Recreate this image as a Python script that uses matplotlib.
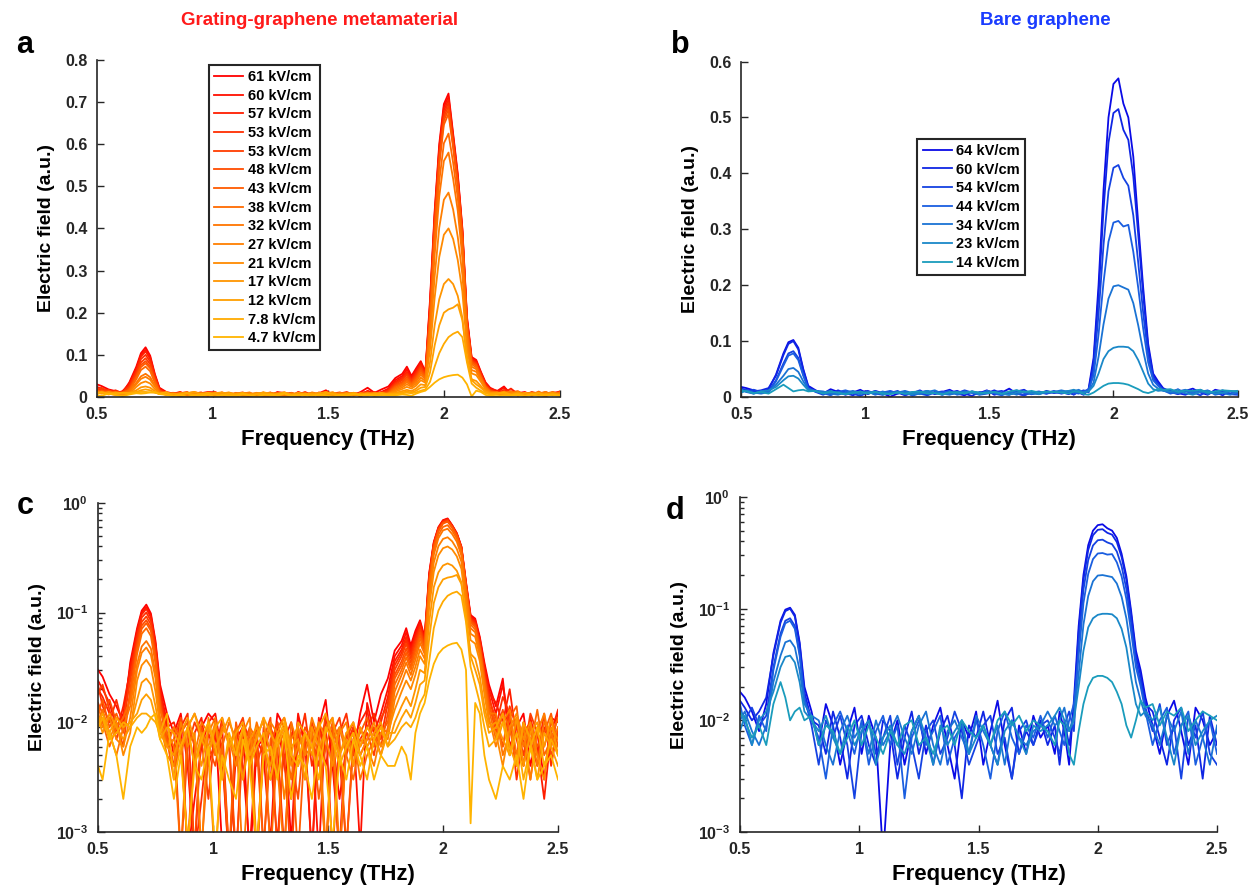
"""Field-dependent THz spectra: grating-graphene metamaterial vs bare graphene."""
import numpy as np
import matplotlib
matplotlib.use("Agg")
import matplotlib.pyplot as plt
from matplotlib.colors import LinearSegmentedColormap
from matplotlib.ticker import LogLocator, NullFormatter

plt.rcParams["font.family"] = ["Liberation Sans", "DejaVu Sans"]
plt.rcParams["font.weight"] = "bold"
plt.rcParams["mathtext.fontset"] = "custom"
plt.rcParams["mathtext.rm"] = "Liberation Sans:bold"
plt.rcParams["mathtext.it"] = "Liberation Sans:bold"
plt.rcParams["mathtext.bf"] = "Liberation Sans:bold"
plt.rcParams["axes.unicode_minus"] = False

# frequency grid (THz)
freq = [0.50, 0.52, 0.55, 0.58, 0.61, 0.64,
        0.67, 0.69, 0.71, 0.73, 0.75, 0.77, 0.80,
        0.83, 0.86, 0.89, 0.92, 0.95, 0.98, 1.01, 1.04, 1.07, 1.10,
        1.13, 1.16, 1.19, 1.22, 1.25, 1.28, 1.31, 1.34, 1.37, 1.40,
        1.43, 1.46, 1.49, 1.52, 1.55, 1.58, 1.61, 1.64, 1.67, 1.70,
        1.73, 1.76,
        1.79, 1.82, 1.84, 1.86, 1.88, 1.90, 1.92, 1.94, 1.96, 1.98,
        2.00, 2.02, 2.04, 2.06, 2.08, 2.10, 2.12, 2.14, 2.16, 2.18, 2.20,
        2.23, 2.26, 2.29, 2.32, 2.35, 2.38, 2.41, 2.44, 2.47, 2.50]

# spectra in units of 1e-3 a.u.
# grating-graphene metamaterial
meta_labels = ["61 kV/cm", "60 kV/cm", "57 kV/cm", "53 kV/cm", "53 kV/cm",
               "48 kV/cm", "43 kV/cm", "38 kV/cm", "32 kV/cm", "27 kV/cm",
               "21 kV/cm", "17 kV/cm", "12 kV/cm", "7.8 kV/cm", "4.7 kV/cm"]
meta_61 = [30, 26, 18, 14, 10, 35,
           72, 104, 118, 98, 55, 22, 12,
           8, 12, 4, 0.6, 9, 12, 10, 0.7, 0.5, 7, 9, 0.5, 6, 7, 3, 12, 9, 0.8, 11, 7,
           0.6, 9, 16, 4, 0.7, 8, 5, 12, 22, 10, 18, 25,
           45, 55, 72, 50, 68, 85, 60, 230, 440, 600,
           695, 720, 625, 530, 400, 190, 95, 88, 60, 35, 22,
           14, 25, 6, 9, 12, 4, 8, 3, 11, 10]
meta_60 = [24, 20, 15, 9, 12, 32,
           68, 100, 112, 94, 52, 20, 10,
           5, 11, 0.6, 2, 6, 10, 12, 5, 0.5, 9, 4, 0.7, 7, 5, 0.8, 10, 4, 2, 12, 6,
           8, 0.6, 11, 7, 2, 6, 9, 0.7, 15, 8, 12, 20,
           40, 50, 66, 47, 64, 82, 58, 222, 432, 592,
           688, 712, 620, 525, 396, 186, 92, 85, 58, 33, 20,
           12, 22, 9, 5, 10, 7, 4, 9, 6, 12]
meta_57 = [20, 17, 12, 8, 14, 30,
           64, 96, 108, 90, 50, 19, 9,
           10, 6, 0.7, 8, 11, 4, 7, 9, 0.6, 5, 8, 6, 0.5, 9, 5, 0.8, 7, 10, 4, 8,
           0.6, 11, 4, 9, 5, 0.7, 7, 10, 13, 6, 10, 17,
           36, 46, 60, 44, 60, 78, 56, 215, 425, 585,
           680, 705, 615, 520, 392, 182, 90, 82, 56, 31, 19,
           15, 10, 20, 7, 4, 11, 6, 2, 8, 13]
meta_53a = [22, 14, 10, 16, 9, 26,
            60, 90, 100, 84, 47, 17, 8,
            4, 9, 12, 0.6, 2, 8, 5, 11, 6, 0.5, 10, 7, 0.6, 5, 9, 6, 0.7, 8, 6, 12,
            4, 7, 10, 0.6, 8, 12, 5, 7, 9, 12, 7, 15,
            33, 43, 56, 41, 56, 74, 54, 208, 418, 578,
            672, 698, 610, 515, 388, 178, 88, 80, 54, 29, 18,
            9, 17, 12, 3, 8, 10, 5, 12, 4, 9]
meta_53b = [18, 22, 13, 7, 11, 24,
            55, 82, 92, 78, 44, 16, 7,
            9, 0.6, 6, 10, 7, 2, 9, 6, 0.5, 8, 11, 5, 9, 0.7, 6, 10, 5, 0.5, 8, 5,
            10, 6, 0.6, 8, 11, 5, 9, 6, 8, 5, 11, 14,
            30, 40, 52, 38, 52, 70, 52, 200, 410, 570,
            664, 690, 605, 510, 384, 175, 86, 78, 52, 27, 16,
            11, 6, 14, 9, 5, 12, 8, 6, 10, 7]
meta_48 = [15, 12, 16, 10, 6, 20,
           50, 76, 85, 72, 40, 15, 6,
           7, 11, 5, 0.7, 9, 6, 4, 10, 7, 0.6, 6, 9, 4, 7, 11, 0.6, 8, 5, 2, 9,
           7, 4, 12, 6, 0.5, 7, 10, 5, 7, 9, 6, 12,
           27, 36, 47, 35, 48, 66, 50, 192, 400, 560,
           656, 682, 598, 505, 380, 172, 84, 76, 50, 26, 15,
           8, 13, 5, 10, 7, 3, 9, 11, 5, 8]
meta_43 = [12, 16, 9, 12, 8, 18,
           47, 71, 80, 68, 38, 14, 7,
           3, 8, 10, 6, 0.7, 5, 9, 7, 0.6, 10, 5, 8, 6, 0.7, 7, 9, 11, 6, 0.6, 7,
           9, 2, 6, 10, 7, 0.7, 6, 8, 11, 6, 8, 10,
           25, 33, 43, 32, 45, 62, 48, 184, 390, 550,
           646, 672, 592, 500, 376, 168, 82, 74, 48, 25, 14,
           10, 6, 11, 14, 4, 9, 6, 8, 12, 6]
meta_38 = [14, 10, 6, 9, 11, 16,
           42, 64, 72, 61, 34, 13, 8,
           6, 0.6, 9, 12, 8, 5, 0.5, 6, 10, 7, 3, 9, 7, 11, 0.6, 6, 8, 3, 9, 5,
           6, 10, 0.7, 7, 9, 5, 3, 7, 6, 8, 5, 9,
           22, 30, 39, 30, 41, 58, 45, 170, 362, 512,
           602, 625, 556, 472, 352, 158, 78, 70, 46, 24, 13,
           7, 12, 9, 4, 10, 6, 13, 5, 7, 11]
meta_32 = [10, 13, 8, 5, 9, 14,
           34, 49, 55, 47, 28, 11, 6,
           9, 7, 0.7, 5, 10, 8, 11, 4, 6, 9, 0.5, 5, 10, 6, 9, 4, 0.6, 10, 6, 3,
           8, 5, 9, 11, 0.6, 6, 8, 3, 5, 7, 9, 8,
           19, 27, 35, 27, 37, 53, 42, 158, 336, 476,
           560, 580, 518, 442, 330, 150, 72, 66, 44, 22, 12,
           12, 5, 8, 11, 6, 9, 4, 10, 8, 5]
meta_27 = [12, 9, 11, 7, 6, 11,
           30, 43, 48, 41, 25, 10, 5,
           4, 10, 6, 8, 0.6, 11, 5, 9, 7, 4, 8, 11, 0.7, 6, 10, 8, 2, 7, 9, 5,
           11, 7, 0.6, 6, 8, 10, 4, 9, 6, 4, 8, 7,
           16, 23, 30, 24, 32, 46, 38, 135, 285, 402,
           468, 485, 445, 380, 290, 132, 64, 60, 40, 20, 11,
           6, 10, 13, 5, 9, 3, 8, 12, 6, 9]
meta_21 = [9, 11, 7, 10, 5, 8,
           24, 33, 37, 32, 19, 9, 6,
           7, 5, 9, 4, 8, 6, 10, 3, 7, 5, 9, 4, 8, 10, 5, 7, 9, 4, 6, 8,
           5, 10, 7, 4, 9, 6, 8, 5, 7, 10, 6, 8,
           13, 19, 24, 20, 27, 40, 34, 112, 235, 332,
           385, 400, 375, 325, 250, 115, 56, 52, 36, 18, 10,
           8, 4, 9, 12, 7, 10, 5, 3, 9, 7]
meta_17 = [11, 8, 12, 9, 7, 9,
           16, 23, 25, 22, 14, 8, 6,
           5, 8, 11, 7, 4, 9, 6, 8, 11, 6, 3, 7, 9, 6, 4, 8, 11, 6, 7, 3,
           9, 6, 8, 11, 5, 7, 4, 9, 6, 8, 10, 6,
           10, 14, 17, 14, 20, 30, 28, 82, 170, 232,
           268, 280, 268, 240, 188, 88, 42, 38, 26, 14, 9,
           10, 7, 5, 11, 4, 8, 10, 6, 11, 5]
meta_12 = [10, 12, 8, 11, 9, 10,
           12, 16, 18, 16, 11, 7, 9,
           8, 6, 9, 12, 7, 5, 9, 11, 6, 8, 10, 5, 7, 11, 8, 6, 9, 5, 10, 8,
           6, 9, 12, 7, 5, 8, 10, 6, 9, 7, 5, 8,
           8, 11, 13, 11, 15, 22, 24, 58, 122, 170,
           200, 208, 212, 220, 182, 98, 40, 30, 22, 12, 8,
           9, 12, 6, 4, 10, 7, 3, 8, 6, 4]
meta_7p8 = [9, 11, 7, 8, 10, 9,
            11, 12, 12, 11, 10, 8, 12,
            3, 6, 9, 4, 7, 10, 6, 3, 8, 5, 9, 4, 6, 8, 3, 7, 10, 5, 4, 8,
            6, 3, 9, 7, 4, 6, 8, 5, 3, 7, 9, 6,
            7, 9, 10, 9, 11, 15, 18, 36, 72, 104,
            126, 142, 150, 155, 142, 82, 32, 22, 15, 9, 6,
            7, 10, 5, 8, 3, 6, 9, 4, 7, 5]
meta_4p7 = [4, 3, 8, 5, 2, 6,
            9, 8, 9, 11, 12, 7, 5,
            2, 5, 0.8, 4, 3, 6, 0.6, 5, 3, 2, 7, 4, 0.7, 5, 6, 3, 8, 2, 5, 4,
            2, 6, 4, 0.8, 5, 3, 7, 4, 6, 3, 5, 4,
            4, 6, 5, 3, 8, 12, 15, 24, 34, 42,
            47, 50, 52, 53, 46, 30, 1.2, 15, 12, 5, 3,
            2, 4, 3, 5, 2, 6, 3, 4, 5, 3]
meta_series = [meta_61, meta_60, meta_57, meta_53a, meta_53b, meta_48, meta_43,
               meta_38, meta_32, meta_27, meta_21, meta_17, meta_12, meta_7p8,
               meta_4p7]

# bare graphene
bare_labels = ["64 kV/cm", "60 kV/cm", "54 kV/cm", "44 kV/cm", "34 kV/cm",
               "23 kV/cm", "14 kV/cm"]
bare_64 = [18, 16, 12, 8, 14, 40,
           78, 98, 102, 88, 50, 20, 12,
           6, 14, 9, 4, 8, 13, 5, 11, 7, 0.6, 6, 10, 4, 8, 11, 5, 9, 13, 6, 3,
           10, 7, 12, 4, 8, 15, 6, 3, 9, 5, 11, 7,
           9, 5, 12, 8, 4, 15, 70, 200, 370, 500,
           560, 570, 525, 500, 430, 310, 195, 95, 42, 28, 16,
           9, 5, 11, 15, 8, 4, 13, 10, 6, 8]
bare_60 = [15, 13, 10, 12, 16, 38,
           75, 95, 100, 85, 48, 18, 10,
           9, 5, 12, 7, 3, 9, 11, 6, 4, 10, 8, 3, 7, 12, 5, 9, 4, 8, 11, 6,
           2, 9, 7, 12, 6, 4, 10, 13, 5, 8, 6, 10,
           6, 9, 4, 10, 6, 12, 62, 182, 335, 455,
           508, 515, 478, 460, 395, 290, 182, 88, 38, 25, 14,
           12, 7, 4, 10, 13, 6, 9, 3, 11, 6]
bare_54 = [12, 10, 13, 9, 11, 30,
           60, 78, 82, 70, 40, 16, 9,
           4, 10, 7, 11, 6, 2, 8, 10, 5, 7, 11, 4, 9, 6, 3, 8, 10, 5, 7, 12,
           8, 4, 6, 9, 11, 5, 7, 3, 8, 10, 6, 9,
           10, 7, 5, 9, 12, 8, 50, 148, 272, 368,
           410, 415, 392, 378, 325, 240, 150, 74, 34, 22, 13,
           8, 14, 6, 9, 3, 11, 7, 12, 5, 4]
bare_44 = [14, 9, 6, 11, 8, 28,
           56, 74, 78, 66, 38, 15, 10,
           7, 3, 9, 12, 8, 5, 10, 4, 8, 11, 6, 9, 2, 7, 10, 6, 8, 11, 4, 7,
           9, 5, 10, 6, 3, 8, 12, 7, 5, 9, 7, 11,
           7, 11, 8, 6, 10, 14, 38, 112, 205, 278,
           312, 315, 305, 308, 260, 195, 122, 62, 30, 20, 12,
           6, 10, 13, 5, 9, 12, 4, 7, 10, 5]
bare_34 = [10, 12, 8, 6, 9, 22,
           38, 50, 52, 45, 28, 14, 11,
           10, 6, 4, 8, 11, 7, 9, 5, 10, 6, 8, 11, 7, 5, 9, 12, 6, 4, 8, 10,
           7, 5, 11, 8, 6, 9, 4, 10, 7, 6, 8, 9,
           12, 9, 10, 13, 8, 11, 26, 72, 130, 176,
           198, 200, 196, 192, 168, 128, 82, 42, 22, 15, 11,
           9, 6, 11, 8, 12, 5, 10, 7, 4, 9]
bare_23 = [8, 11, 6, 10, 12, 18,
           30, 37, 38, 33, 22, 12, 10,
           8, 11, 7, 5, 9, 6, 8, 10, 4, 7, 9, 6, 5, 8, 11, 7, 4, 9, 6, 8,
           10, 5, 7, 9, 6, 4, 8, 10, 7, 5, 9, 8,
           9, 11, 13, 10, 8, 10, 20, 42, 68, 82,
           88, 90, 90, 89, 82, 66, 45, 24, 14, 11, 12,
           10, 13, 7, 4, 9, 11, 6, 8, 10, 11]
bare_14 = [12, 10, 7, 9, 6, 14,
           22, 16, 10, 12, 13, 10, 11,
           6, 9, 8, 5, 7, 10, 6, 9, 7, 5, 8, 6, 9, 10, 6, 7, 5, 8, 9, 6,
           10, 8, 7, 9, 6, 10, 12, 9, 11, 8, 10, 9,
           8, 6, 10, 9, 5, 4, 8, 14, 20, 24,
           25, 25, 24, 22, 18, 14, 9, 7, 10, 15, 13,
           14, 9, 12, 11, 13, 8, 10, 12, 11, 10]
bare_series = [bare_64, bare_60, bare_54, bare_44, bare_34, bare_23, bare_14]

FIELD_UNIT = 1e-3
XTICKS = [0.5, 1, 1.5, 2, 2.5]
XTICKLABELS = ["0.5", "1", "1.5", "2", "2.5"]

meta_cmap = LinearSegmentedColormap.from_list("meta", ["#ff0000", "#ff6a00", "#ffb400"])
bare_cmap = LinearSegmentedColormap.from_list("bare", ["#0a0ae6", "#1a5ee0", "#1a9cbc"])
meta_colors = [meta_cmap(i / (len(meta_series) - 1)) for i in range(len(meta_series))]
bare_colors = [bare_cmap(i / (len(bare_series) - 1)) for i in range(len(bare_series))]


def style_axes(ax):
    for side in ("top", "right"):
        ax.spines[side].set_visible(False)
    for side in ("left", "bottom"):
        ax.spines[side].set_color("#262626")
        ax.spines[side].set_linewidth(1.2)
    ax.tick_params(which="both", direction="in", colors="#262626",
                   labelsize=11.5, width=1.0, pad=7)
    ax.tick_params(which="major", length=5)
    ax.tick_params(which="minor", length=3)
    ax.set_xlim(0.5, 2.5)
    ax.set_xticks(XTICKS)
    ax.set_xticklabels(XTICKLABELS)
    ax.set_xlabel("Frequency (THz)", fontsize=16, fontweight="bold", labelpad=5)
    ax.set_ylabel("Electric field (a.u.)", fontsize=14, fontweight="bold", labelpad=7)


def draw(ax, series, labels, colors, log=False):
    x = np.array(freq)
    for vals, lab, col in zip(series, labels, colors):
        ax.plot(x, np.array(vals) * FIELD_UNIT, color=col, lw=1.3, label=lab)
    style_axes(ax)
    if log:
        ax.set_yscale("log")
        ax.set_ylim(1e-3, 1)
        ax.yaxis.set_minor_locator(LogLocator(base=10, subs=np.arange(2, 10), numticks=20))
        ax.yaxis.set_minor_formatter(NullFormatter())
        ax.set_yticks([1e-3, 1e-2, 1e-1, 1])
        ax.set_yticklabels([r"$10^{-3}$", r"$10^{-2}$", r"$10^{-1}$", r"$10^{0}$"])


fig = plt.figure(figsize=(12.5, 8.85), dpi=100)
ax_a = fig.add_axes([0.0776, 0.5514, 0.370, 0.381])
ax_b = fig.add_axes([0.593, 0.5514, 0.397, 0.379])
ax_c = fig.add_axes([0.0784, 0.0599, 0.368, 0.372])
ax_d = fig.add_axes([0.592, 0.0599, 0.3816, 0.3785])

draw(ax_a, meta_series, meta_labels, meta_colors)
ax_a.set_ylim(0, 0.8)
ax_a.set_yticks(np.arange(0, 0.81, 0.1))
ax_a.set_yticklabels(["0", "0.1", "0.2", "0.3", "0.4", "0.5", "0.6", "0.7", "0.8"])

draw(ax_b, bare_series, bare_labels, bare_colors)
ax_b.set_ylim(0, 0.6)
ax_b.set_yticks(np.arange(0, 0.61, 0.1))
ax_b.set_yticklabels(["0", "0.1", "0.2", "0.3", "0.4", "0.5", "0.6"])

draw(ax_c, meta_series, meta_labels, meta_colors, log=True)
draw(ax_d, bare_series, bare_labels, bare_colors, log=True)

for ax, anchor in ((ax_a, (0.242, 0.985)), (ax_b, (0.355, 0.77))):
    leg = ax.legend(loc="upper left", bbox_to_anchor=anchor, fontsize=10.5,
                    frameon=True, fancybox=False, framealpha=1,
                    handlelength=2.0, handletextpad=0.3, labelspacing=0.32,
                    borderpad=0.35, borderaxespad=0)
    leg.get_frame().set_edgecolor("#262626")
    leg.get_frame().set_linewidth(1.5)

fig.text(0.256, 0.977, "Grating-graphene metamaterial", color="#ff1a1a",
         fontsize=13.5, fontweight="bold", ha="center", va="center")
fig.text(0.836, 0.977, "Bare graphene", color="#1a3cff",
         fontsize=13.5, fontweight="bold", ha="center", va="center")
for lbl, (x, y) in zip("abcd", [(0.020, 0.949), (0.544, 0.949), (0.020, 0.428), (0.540, 0.423)]):
    fig.text(x, y, lbl, fontsize=22, fontweight="bold", ha="center", va="center")

fig.savefig("out.png", dpi=100)
plt.close(fig)
